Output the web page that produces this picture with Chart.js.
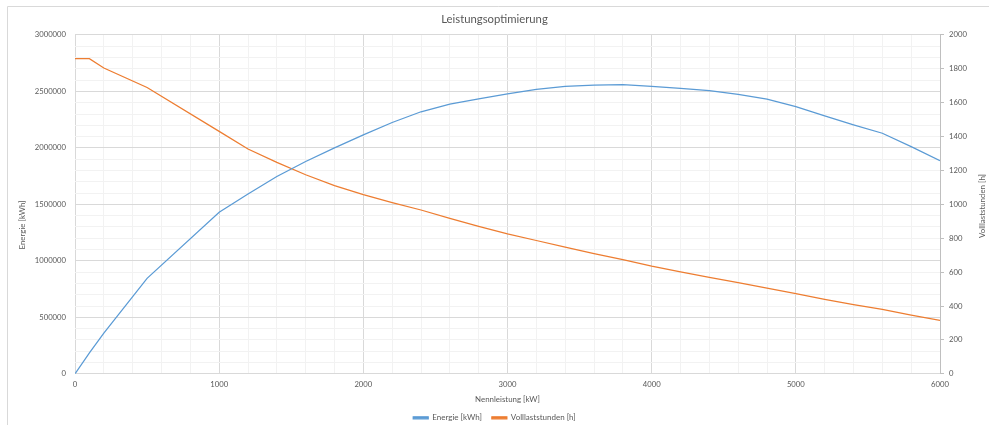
<!DOCTYPE html>
<html>
<head>
<meta charset="utf-8">
<script src="https://cdn.jsdelivr.net/npm/chart.js@4/dist/chart.umd.min.js"></script>
<style>
  html, body { margin: 0; padding: 0; background: #fff; }
  #wrap { width: 989px; height: 425px; }
</style>
</head>
<body>
<div id="wrap"><canvas id="chart" width="989" height="425"></canvas></div>
<script>
// -------------------------------------------------------
// Data
// -------------------------------------------------------
const nennleistung = [0, 100, 200, 500, 1000, 1200, 1400, 1600, 1800, 2000, 2200, 2400, 2600, 2800, 3000,
  3200, 3400, 3600, 3800, 4000, 4200, 4400, 4600, 4800, 5000, 5200, 5400, 5600, 5800, 6000];

const energie = [0, 186000, 361000, 845000, 1431000, 1592000, 1747000, 1880000, 2000000, 2115000, 2225000,
  2320000, 2387000, 2435000, 2478000, 2518000, 2545000, 2557000, 2560000, 2545000, 2528000, 2507000,
  2475000, 2431000, 2365000, 2283000, 2204000, 2130000, 2011000, 1888000];

const volllaststunden = [1860, 1860, 1805, 1690, 1431, 1327, 1248, 1175, 1111, 1058, 1011, 967, 918, 870, 826,
  787, 748, 710, 674, 636, 602, 570, 538, 506, 473, 439, 408, 380, 347, 315];

const TEXT = '#595959';
const FONT = 'Lato, "Open Sans", sans-serif';

const toXY = ys => nennleistung.map((x, i) => ({ x, y: ys[i] }));

// chart frame + rotated axis titles
const frameAndTitles = {
  id: 'frameAndTitles',
  beforeDraw(chart) {
    const c = chart.ctx;
    c.save();
    c.strokeStyle = '#d9d9d9';
    c.lineWidth = 1;
    c.beginPath();
    c.moveTo(7.5, 425);
    c.lineTo(7.5, 6.5);
    c.lineTo(989, 6.5);
    c.stroke();
    c.restore();
  },
  afterDraw(chart) {
    const c = chart.ctx;
    c.save();
    c.fillStyle = TEXT;
    c.font = '7.9px ' + FONT;
    c.textAlign = 'center';
    c.textBaseline = 'middle';
    [[22, 225, 'Energie [kWh]'], [982, 206, 'Volllaststunden [h]']].forEach(([x, y, t]) => {
      c.save();
      c.translate(x, y);
      c.rotate(-Math.PI / 2);
      c.fillText(t, 0, 0);
      c.restore();
    });
    c.restore();
  }
};

new Chart(document.getElementById('chart'), {
  type: 'line',
  data: {
    datasets: [
      {
        label: 'Energie [kWh]',
        data: toXY(energie),
        yAxisID: 'y',
        borderColor: '#5b9bd5',
        backgroundColor: '#5b9bd5',
        borderWidth: 1.25,
        pointRadius: 0,
        tension: 0,
      },
      {
        label: 'Volllaststunden [h]',
        data: toXY(volllaststunden),
        yAxisID: 'y2',
        borderColor: '#ed7d31',
        backgroundColor: '#ed7d31',
        borderWidth: 1.25,
        pointRadius: 0,
        tension: 0,
      },
    ],
  },
  options: {
    responsive: false,
    animation: false,
    devicePixelRatio: 1,
    layout: { padding: { left: 0, right: 0, top: 0, bottom: -6.85 } },
    plugins: {
      title: {
        display: true,
        text: 'Leistungsoptimierung',
        color: TEXT,
        font: { family: FONT, size: 11.3, weight: 'normal' },
        padding: { top: 12.4, bottom: 9 },
      },
      legend: {
        position: 'bottom',
        labels: {
          color: TEXT,
          font: { family: FONT, size: 8 },
          boxWidth: 15,
          boxHeight: 2,
          padding: 10,
        },
      },
      tooltip: { enabled: false },
    },
    scales: {
      x: {
        type: 'linear',
        min: 0,
        max: 6000,
        border: { display: false },
        grid: {
          drawTicks: false,
          color: c => c.tick.value % 1000 === 0 ? '#d9d9d9' : '#f2f2f2',
        },
        ticks: {
          stepSize: 200,
          autoSkip: false,
          maxRotation: 0,
          padding: 6,
          color: TEXT,
          font: { family: FONT, size: 7.7 },
          callback: v => v % 1000 === 0 ? String(v) : '',
        },
        title: {
          display: true,
          text: 'Nennleistung [kW]',
          color: TEXT,
          font: { family: FONT, size: 7.9 },
          padding: { top: 0, bottom: 0 },
        },
        afterFit: s => { s.height = 30; },
      },
      y: {
        position: 'left',
        min: 0,
        max: 3000000,
        border: { display: false },
        grid: {
          drawTicks: false,
          color: c => c.tick.value % 500000 === 0 ? '#d9d9d9' : '#f2f2f2',
        },
        ticks: {
          stepSize: 100000,
          autoSkip: false,
          padding: 9,
          color: TEXT,
          font: { family: FONT, size: 7.7 },
          callback: v => v % 500000 === 0 ? String(v) : '',
        },
        afterFit: s => { s.width = 75; },
      },
      y2: {
        position: 'right',
        min: 0,
        max: 2000,
        border: { display: true, color: '#bfbfbf' },
        grid: {
          drawOnChartArea: false,
          drawTicks: true,
          tickLength: 4,
          color: '#bfbfbf',
        },
        ticks: {
          stepSize: 200,
          padding: 5,
          color: TEXT,
          font: { family: FONT, size: 7.7 },
          callback: v => String(v),
        },
        afterFit: s => { s.width = 49; },
      },
    },
  },
  plugins: [frameAndTitles],
});
</script>
</body>
</html>
